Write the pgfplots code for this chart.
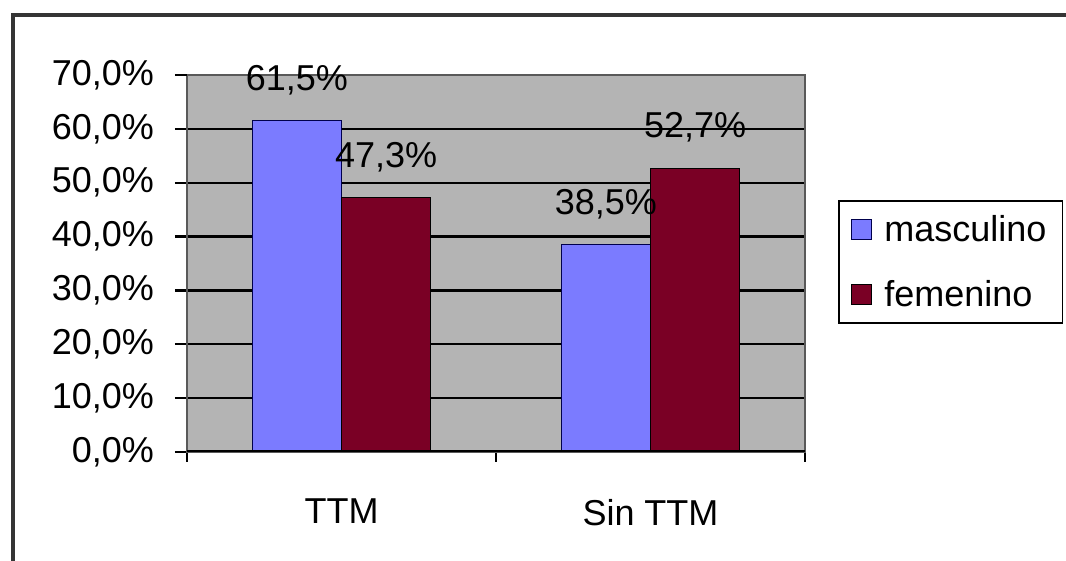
\documentclass[border=0pt]{standalone}
\usepackage{pgfplots}
\pgfplotsset{compat=1.18}
\usepackage{fontspec}
\setmainfont{Liberation Sans}
\definecolor{barblue}{HTML}{7B7BFF}
\definecolor{barred}{HTML}{7A0025}
\definecolor{plotgray}{HTML}{B4B4B4}
\definecolor{framegray}{HTML}{353535}
\newcommand{\chartfont}{\fontsize{18}{21.6}\selectfont}
% square legend swatch
\pgfplotsset{sqlegend/.style={legend image code/.code={%
  \draw[##1, line width=0.8pt] (0pt,-5pt) rectangle (10pt,5pt);}}}
\begin{document}
\begin{tikzpicture}
\useasboundingbox (0,0) rectangle (533pt,280.5pt);
\fill[white] (0,0) rectangle (533pt,280.5pt);
% chart frame (top and left edges)
\draw[framegray, line width=2pt, line cap=rect] (6.5pt,0pt) -- (6.5pt,273pt) -- (534pt,273pt);
\begin{axis}[
  at={(93.5pt,54.5pt)}, anchor=south west,
  scale only axis, width=309pt, height=188.5pt,
  ybar=0pt, bar width=0.289,
  xmin=-0.5, xmax=1.5, ymin=0, ymax=70,
  /pgf/number format/assume math mode=true,
  font=\chartfont,
  axis background/.style={fill=plotgray},
  axis line style={draw=gray!70!black, line width=0.8pt},
  tick align=outside,
  xtick pos=bottom, ytick pos=left,
  xtick={0,1}, xticklabels={TTM, Sin TTM},
  major x tick style={draw=none},
  minor xtick={-0.5,0.5,1.5},
  minor x tick style={draw=black, line width=1pt},
  minor tick length=5pt,
  xticklabel style={yshift=-14pt},
  ytick={0,10,...,60},
  extra y ticks={70},
  extra y tick style={grid=none},
  ytick style={draw=black, line width=1.2pt},
  major tick length=6pt,
  yticklabel={\pgfmathprintnumber[fixed,fixed zerofill,precision=1,use comma]{\tick}\%},
  yticklabel style={xshift=-7pt},
  ymajorgrids,
  major grid style={draw=black, line width=1.2pt},
  nodes near coords={\pgfmathprintnumber[fixed,fixed zerofill,precision=1,use comma]{\pgfplotspointmeta}\%},
  nodes near coords style={font=\chartfont, anchor=south, inner sep=0pt, yshift=12.5pt, black},
  legend style={at={(1.0534,0.668)}, anchor=north west, draw=black, line width=0.8pt,
    fill=white, font=\chartfont, inner xsep=6pt, inner ysep=5pt, row sep=14pt,
    column sep=4pt},
  legend cell align=left,
]
\addplot[fill=barblue, draw=blue!30!black, line width=0.6pt, sqlegend]
  coordinates {(0,61.5) (1,38.5)};
\addlegendentry{masculino}
\addplot[fill=barred, draw=black, line width=0.6pt, sqlegend]
  coordinates {(0,47.3) (1,52.7)};
\addlegendentry{femenino}
\draw[black, line width=1.5pt] (rel axis cs:0,0) -- (rel axis cs:1,0);
\end{axis}
\end{tikzpicture}
\end{document}
